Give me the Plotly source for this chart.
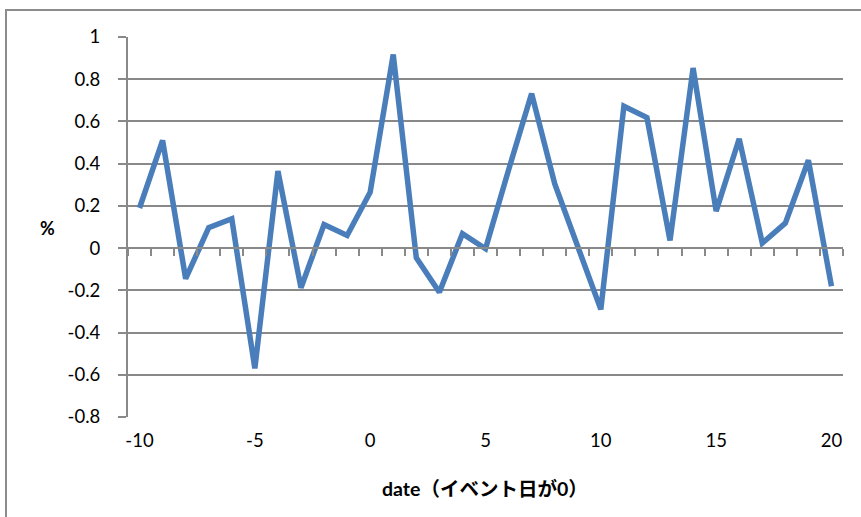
import plotly.graph_objects as go

dates = list(range(-10, 21))
values = [0.19, 0.51, -0.145, 0.097, 0.139, -0.57, 0.365, -0.188, 0.112, 0.06,
          0.265, 0.917, -0.046, -0.209, 0.068, -0.003, 0.37, 0.732, 0.305, 0.01,
          -0.29, 0.672, 0.618, 0.036, 0.853, 0.175, 0.518, 0.024, 0.118, 0.416, -0.181]
x_tick_vals = [-10, -5, 0, 5, 10, 15, 20]
x_tick_text = ["-10", "-5", "0", "5", "10", "15", "20"]
y_tick_vals = [-0.8, -0.6, -0.4, -0.2, 0, 0.2, 0.4, 0.6, 0.8, 1]
y_tick_text = ["-0.8", "-0.6", "-0.4", "-0.2", "0", "0.2", "0.4", "0.6", "0.8", "1"]
minor_ticks = [d + 0.5 for d in range(-11, 21)]

FONT = "Lato, 'Noto Sans CJK JP', sans-serif"
GRAY = "#898989"

fig = go.Figure()
fig.add_trace(go.Scatter(x=dates, y=values, mode="lines",
                         line=dict(color="#4a7ebb", width=5.5), showlegend=False))
# invisible copy to host the zero-crossing category axis
fig.add_trace(go.Scatter(x=dates, y=values, mode="lines", xaxis="x2",
                         line=dict(color="rgba(0,0,0,0)", width=0),
                         hoverinfo="skip", showlegend=False))

fig.update_layout(
    width=861, height=517,
    margin=dict(l=128, r=18, t=37, b=100),
    paper_bgcolor="white", plot_bgcolor="white",
    font=dict(family=FONT, size=18, color="black"),
    xaxis=dict(range=[-10.5, 20.5], tickvals=x_tick_vals, ticktext=x_tick_text,
               ticks="", showgrid=False, zeroline=False, showline=False,
               automargin=False, ticklabelstandoff=10, tickfont=dict(size=18.5)),
    xaxis2=dict(range=[-10.5, 20.5], overlaying="x", anchor="free",
                position=0.8 / 1.8, side="bottom", showline=True,
                linecolor=GRAY, linewidth=2, ticks="outside", ticklen=7,
                tickcolor=GRAY, tickwidth=1.5, tickvals=minor_ticks,
                showticklabels=False, showgrid=False, zeroline=False),
    yaxis=dict(range=[-0.8, 1.0], tickvals=y_tick_vals, ticktext=y_tick_text,
               showgrid=True, gridcolor=GRAY, gridwidth=1.5, zeroline=False,
               showline=True, linecolor=GRAY, linewidth=2, ticks="outside",
               ticklen=8, tickcolor=GRAY, tickwidth=1.5, ticklabelstandoff=14,
               automargin=False, tickfont=dict(size=18.5)),
    annotations=[
        dict(text="<b>date（イベント日が0）</b>", xref="paper", yref="paper",
             x=(485 - 128) / 715, y=(417 - 488) / 380, showarrow=False,
             font=dict(size=19.5, family=FONT), xanchor="center", yanchor="middle"),
        dict(text="<b>%</b>", xref="paper", yref="paper",
             x=(47 - 128) / 715, y=(417 - 228) / 380, showarrow=False,
             font=dict(size=18, family=FONT), xanchor="center", yanchor="middle"),
    ],
    shapes=[
        dict(type="rect", xref="paper", yref="paper",
             x0=(6 - 128) / 715, x1=(880 - 128) / 715,
             y0=(417 - 540) / 380, y1=(417 - 10) / 380,
             line=dict(color="#8c8c8c", width=2), layer="below"),
    ],
)

fig.write_html("out.html", config={"displayModeBar": False},
               post_script="document.body.style.margin='0';document.body.style.overflow='hidden';")
